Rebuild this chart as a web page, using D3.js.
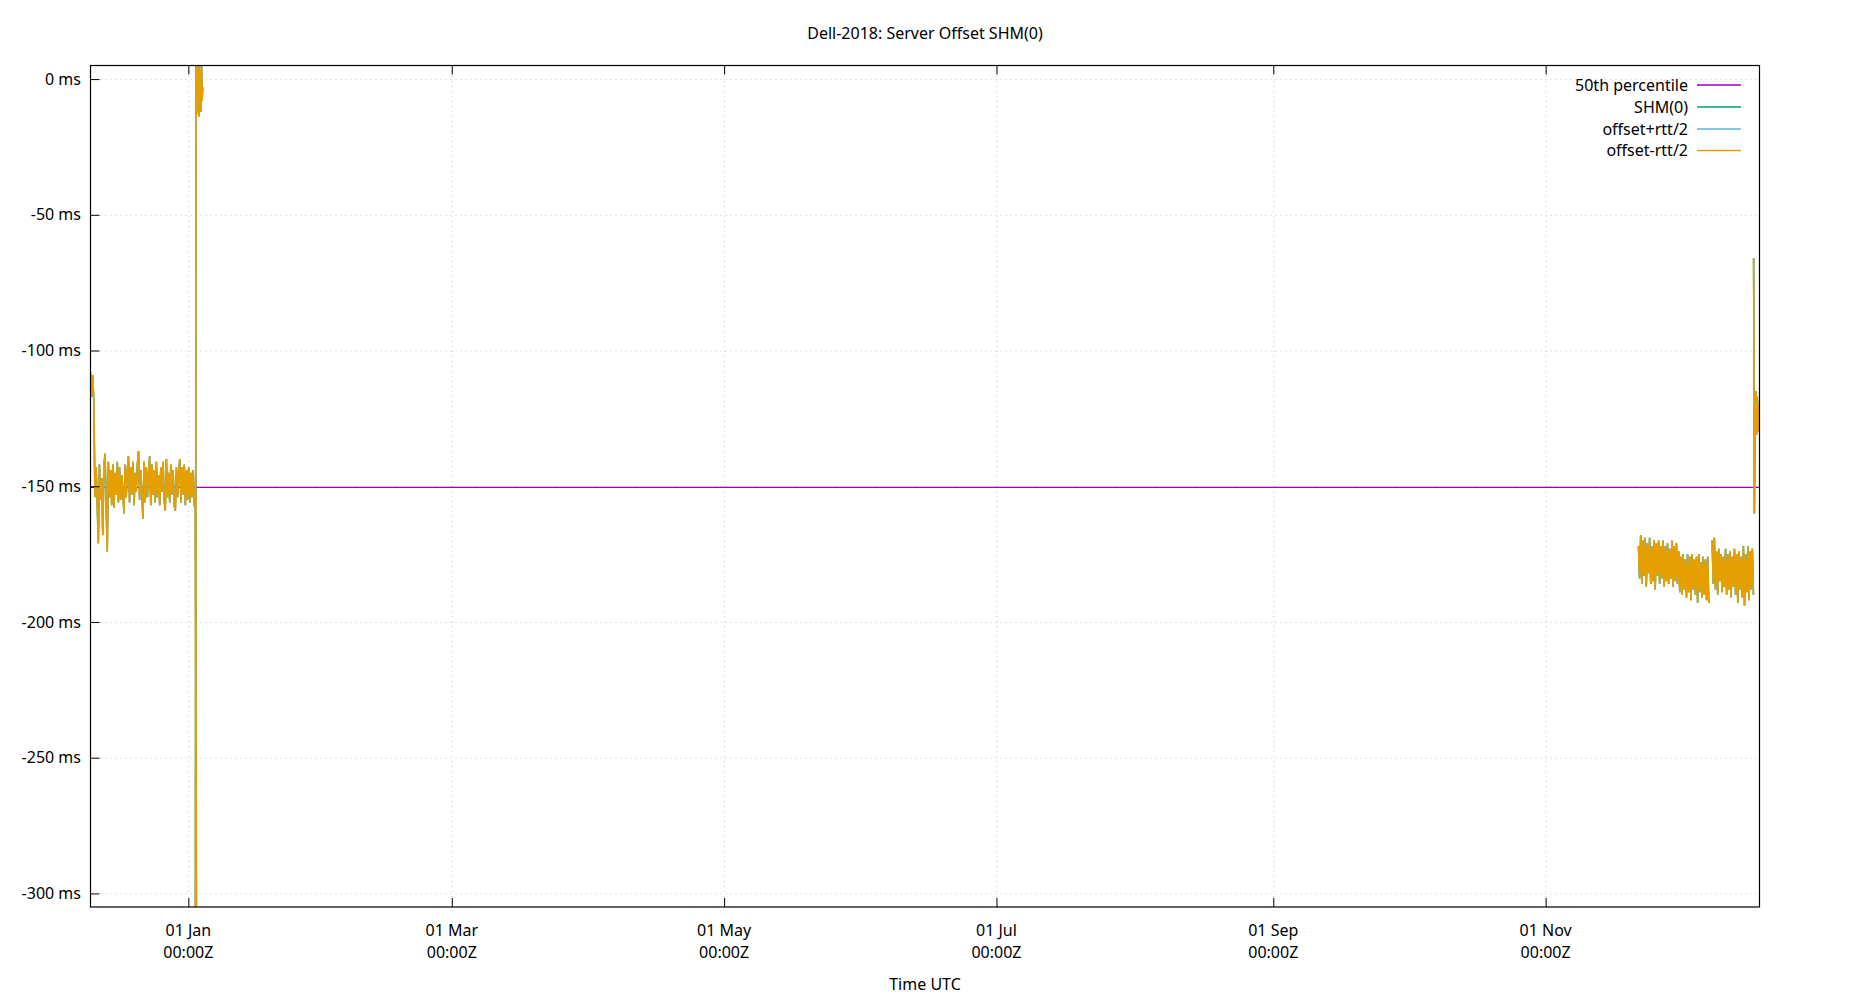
<!DOCTYPE html>
<html>
<head>
<meta charset="utf-8">
<script src="https://cdn.jsdelivr.net/npm/d3@7"></script>
<style>
  html, body { margin: 0; padding: 0; background: #fff; }
  svg { display: block; font-family: "Noto Sans", "Open Sans", sans-serif; }
</style>
</head>
<body>
<svg id="chart" width="1850" height="1000"></svg>
<script>
// ---------------- data ----------------
const chartTitle = "Dell-2018: Server Offset SHM(0)";
const xAxisTitle = "Time UTC";
const seriesNames = ["50th percentile", "SHM(0)", "offset+rtt/2", "offset-rtt/2"];
const seriesColors = ["#9400d3", "#009e73", "#56b4e9", "#e69f00"];

const yTickValues = [0, -50, -100, -150, -200, -250, -300];
const yTickLabels = ["0 ms", "-50 ms", "-100 ms", "-150 ms", "-200 ms", "-250 ms", "-300 ms"];
const xTickDates = ["2019-01-01T00:00Z", "2019-03-01T00:00Z", "2019-05-01T00:00Z", "2019-07-01T00:00Z", "2019-09-01T00:00Z", "2019-11-01T00:00Z"];
const xTickLabels = [["01 Jan", "00:00Z"], ["01 Mar", "00:00Z"], ["01 May", "00:00Z"], ["01 Jul", "00:00Z"], ["01 Sep", "00:00Z"], ["01 Nov", "00:00Z"]];

const xDomain = ["2018-12-10T02:00Z", "2019-12-18T21:36Z"];
const yDomain = [-305, 5];

const percentile50 = -150.4;   // ms
const sampleStepHours = 6;

// segment 1: Dec 2018 - early Jan 2019 (offset in ms)
const seg1Start = "2018-12-10T02:00Z";
const seg1Values = [
  -108, -117, -109, -119, -154, -143, -156, -171, -142, -155,
  -147, -168, -143, -138, -156, -174, -141, -154, -144, -157,
  -142, -158, -145, -153, -141, -156, -143, -155, -146, -152,
  -160, -142, -154, -144, -139, -156, -143, -153, -141, -157,
  -145, -152, -142, -137, -155, -144, -153, -162, -141, -156,
  -143, -154, -145, -139, -157, -142, -153, -144, -156, -141,
  -154, -146, -157, -143, -152, -141, -155, -159, -140, -154,
  -145, -156, -142, -153, -144, -157, -159, -143, -154, -145,
  -140, -156, -143, -153, -142, -157, -144, -155, -143, -156,
  -145, -154, -144, -157, -158, -330
];
// segment 1b: the short excursion near 0 ms in early Jan 2019
const seg1bStart = "2019-01-02T14:00Z";
const seg1bStepHours = 3;
const seg1bValues = [-330, 6, -13, 7, -11, 4, -14, 6, -9, 3, -12, 5, -8, -3];

// segment 2: late Nov - early Dec 2019
const seg2Start = "2019-11-21T19:00Z";
const seg2Values = [
  -172, -184, -168, -186, -170, -183, -169, -187, -171, -182,
  -169, -186, -172, -185, -170, -188, -171, -183, -170, -186,
  -172, -184, -170, -187, -172, -185, -171, -186, -173, -184,
  -170, -187, -172, -185, -171, -186, -174, -189, -176, -190,
  -175, -188, -177, -191, -175, -189, -176, -192, -175, -188,
  -177, -190, -176, -193, -175, -189, -178, -191, -176, -190,
  -177, -192, -176, -193
];
// segment 3: Dec 2019
const seg3Start = "2019-12-08T07:00Z";
const seg3Values = [
  -170, -186, -169, -188, -174, -190, -173, -185, -175, -189,
  -176, -187, -173, -190, -175, -188, -174, -191, -176, -187,
  -173, -190, -175, -193, -174, -188, -176, -191, -172, -194,
  -175, -189, -172, -192, -174, -188, -173, -190
];
// segment 4: end of Dec 2019
const seg4Start = "2019-12-17T14:00Z";
const seg4StepHours = 4;
const seg4Values = [-66, -160, -128, -115, -131, -117, -130, -124, -120];

// ---------------- layout ----------------
const W = 1850, H = 1000;
const plot = { left: 90.5, right: 1759.5, top: 65.5, bottom: 907 };

const svg = d3.select("#chart");
const parse = d3.utcParse("%Y-%m-%dT%H:%MZ");

const x = d3.scaleUtc().domain(xDomain.map(parse)).range([plot.left, plot.right]);
const y = d3.scaleLinear().domain(yDomain).range([plot.bottom, plot.top]);

function buildSeries(start, values, stepH) {
  const t0 = parse(start);
  return values.map((v, i) => ({ t: d3.utcHour.offset(t0, i * stepH), v }));
}
const segments = [
  buildSeries(seg1Start, seg1Values, sampleStepHours),
  buildSeries(seg1bStart, seg1bValues, seg1bStepHours),
  buildSeries(seg2Start, seg2Values, sampleStepHours),
  buildSeries(seg3Start, seg3Values, sampleStepHours),
  buildSeries(seg4Start, seg4Values, seg4StepHours)
];

svg.append("defs").append("clipPath").attr("id", "clip")
  .append("rect")
  .attr("x", plot.left).attr("y", plot.top)
  .attr("width", plot.right - plot.left).attr("height", plot.bottom - plot.top);

// ---------------- grid ----------------
const gridColor = "#c4c4c4";
const grid = svg.append("g");
const xTicks = xTickDates.map(parse);

grid.append("g")
  .attr("transform", `translate(0,${plot.bottom})`)
  .call(d3.axisBottom(x).tickValues(xTicks).tickSize(-(plot.bottom - plot.top)).tickFormat(""))
  .call(g => g.select(".domain").remove())
  .call(g => g.selectAll("line").attr("stroke", gridColor).attr("stroke-width", 1).attr("stroke-dasharray", "1,4"));

grid.append("g")
  .attr("transform", `translate(${plot.left},0)`)
  .call(d3.axisLeft(y).tickValues(yTickValues).tickSize(-(plot.right - plot.left)).tickFormat(""))
  .call(g => g.select(".domain").remove())
  .call(g => g.selectAll("line").attr("stroke", gridColor).attr("stroke-width", 1).attr("stroke-dasharray", "1,4"));

// ---------------- data lines ----------------
const dataG = svg.append("g").attr("clip-path", "url(#clip)");

// 50th percentile
dataG.append("path")
  .datum(x.domain().map(t => ({ t, v: percentile50 })))
  .attr("fill", "none")
  .attr("stroke", seriesColors[0])
  .attr("stroke-width", 1.3)
  .attr("d", d3.line().x(d => x(d.t)).y(d => y(d.v)));

const line = d3.line().x(d => x(d.t)).y(d => y(d.v));
[1, 2, 3].forEach(si => {
  segments.forEach(seg => {
    dataG.append("path")
      .datum(seg)
      .attr("fill", "none")
      .attr("stroke", seriesColors[si])
      .attr("stroke-width", si === 3 ? 1.7 : 1.5)
      .attr("stroke-linejoin", "miter")
      .attr("d", line);
  });
});

// ---------------- axes ----------------
const fontSize = 16;
const axesG = svg.append("g");

// left axis ticks (inward)
const yAxis = axesG.append("g")
  .attr("transform", `translate(${plot.left},0)`)
  .call(d3.axisLeft(y).tickValues(yTickValues).tickSize(-9).tickPadding(18)
    .tickFormat((d, i) => yTickLabels[i]));
yAxis.select(".domain").remove();
yAxis.selectAll("line").attr("stroke", "#000").attr("stroke-width", 1);
yAxis.selectAll("text")
  .attr("font-size", fontSize).attr("fill", "#000")
  .attr("font-family", "Noto Sans")
  .attr("x", -9.5);

// bottom axis ticks (inward) + labels
const xAxisB = axesG.append("g")
  .attr("transform", `translate(0,${plot.bottom})`)
  .call(d3.axisBottom(x).tickValues(xTicks).tickSize(-9).tickFormat(""));
xAxisB.select(".domain").remove();
xAxisB.selectAll("line").attr("stroke", "#000").attr("stroke-width", 1);

// top mirrored ticks
const xAxisT = axesG.append("g")
  .attr("transform", `translate(0,${plot.top})`)
  .call(d3.axisTop(x).tickValues(xTicks).tickSize(-9).tickFormat(""));
xAxisT.select(".domain").remove();
xAxisT.selectAll("line").attr("stroke", "#000").attr("stroke-width", 1);

const xLabels = axesG.append("g");
xTicks.forEach((t, i) => {
  const tx = xLabels.append("text")
    .attr("x", x(t)).attr("y", 936)
    .attr("text-anchor", "middle")
    .attr("font-size", fontSize).attr("fill", "#000");
  tx.append("tspan").attr("x", x(t)).attr("y", 936).text(xTickLabels[i][0]);
  tx.append("tspan").attr("x", x(t)).attr("y", 958).text(xTickLabels[i][1]);
});

// border
svg.append("rect")
  .attr("x", plot.left).attr("y", plot.top)
  .attr("width", plot.right - plot.left).attr("height", plot.bottom - plot.top)
  .attr("fill", "none").attr("stroke", "#000").attr("stroke-width", 1.2);

// title & axis title
svg.append("text")
  .attr("x", (plot.left + plot.right) / 2).attr("y", 38.5)
  .attr("text-anchor", "middle").attr("font-size", fontSize).attr("fill", "#000")
  .text(chartTitle);
svg.append("text")
  .attr("x", (plot.left + plot.right) / 2).attr("y", 990)
  .attr("text-anchor", "middle").attr("font-size", fontSize).attr("fill", "#000")
  .text(xAxisTitle);

// ---------------- legend ----------------
const legend = svg.append("g");
const legendRowsY = [85, 107, 129, 150.5];
seriesNames.forEach((name, i) => {
  legend.append("text")
    .attr("x", 1688).attr("y", legendRowsY[i] + 5.5)
    .attr("text-anchor", "end").attr("font-size", fontSize).attr("fill", "#000")
    .text(name);
  legend.append("line")
    .attr("x1", 1697).attr("x2", 1741)
    .attr("y1", legendRowsY[i]).attr("y2", legendRowsY[i])
    .attr("stroke", seriesColors[i]).attr("stroke-width", 1.3);
});
</script>
</body>
</html>
